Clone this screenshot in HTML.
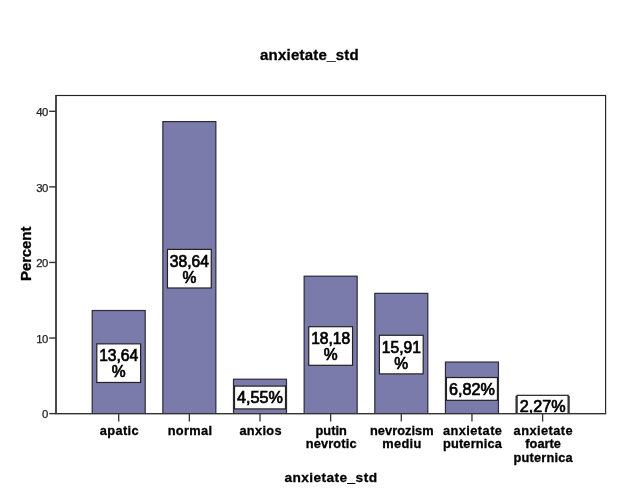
<!DOCTYPE html>
<html lang="ro"><head><meta charset="utf-8"><title>anxietate_std</title>
<style>html,body{margin:0;padding:0;background:#fff}svg{display:block}text{font-family:"Liberation Sans",Arial,Helvetica,sans-serif}.b{font-weight:bold;fill:#000;stroke:#000;stroke-width:.3px}.t{fill:#222;font-size:11.3px;letter-spacing:-.5px;stroke:#222;stroke-width:.25px}.v{fill:#000;font-size:16.2px;stroke:#000;stroke-width:.7px}.v2{font-size:15.6px}</style></head><body>
<svg width="618" height="495" viewBox="0 0 618 495">
<rect width="618" height="495" fill="#fff"/>
<text class="b" x="309.3" y="59.7" font-size="15px" text-anchor="middle" textLength="98.6" lengthAdjust="spacing">anxietate_std</text>
<clipPath id="p"><rect x="56.0" y="95.5" width="549.6" height="318.1"/></clipPath>
<g clip-path="url(#p)">
<rect x="92.20" y="310.52" width="53" height="103.08" fill="#7a7aab" stroke="#2b2b3a" stroke-width="1.2"/>
<rect x="162.85" y="121.58" width="53" height="292.02" fill="#7a7aab" stroke="#2b2b3a" stroke-width="1.2"/>
<rect x="233.50" y="379.21" width="53" height="34.39" fill="#7a7aab" stroke="#2b2b3a" stroke-width="1.2"/>
<rect x="304.15" y="276.20" width="53" height="137.40" fill="#7a7aab" stroke="#2b2b3a" stroke-width="1.2"/>
<rect x="374.80" y="293.36" width="53" height="120.24" fill="#7a7aab" stroke="#2b2b3a" stroke-width="1.2"/>
<rect x="445.45" y="362.06" width="53" height="51.54" fill="#7a7aab" stroke="#2b2b3a" stroke-width="1.2"/>
<rect x="516.10" y="396.44" width="53" height="17.16" fill="#7a7aab" stroke="#2b2b3a" stroke-width="1.2"/>
<rect x="96.80" y="343.86" width="43.8" height="38.6" fill="#fff" stroke="#222" stroke-width="1.2"/>
<text class="v v2" x="118.70" y="361.46" text-anchor="middle">13,64</text>
<text class="v v2" x="118.70" y="377.26" text-anchor="middle">%</text>
<rect x="167.45" y="249.39" width="43.8" height="38.6" fill="#fff" stroke="#222" stroke-width="1.2"/>
<text class="v v2" x="189.35" y="266.99" text-anchor="middle">38,64</text>
<text class="v v2" x="189.35" y="282.79" text-anchor="middle">%</text>
<rect x="234.50" y="386.11" width="51.0" height="22.8" fill="#fff" stroke="#222" stroke-width="1.2"/>
<text class="v" x="260.00" y="403.21" text-anchor="middle">4,55%</text>
<rect x="308.75" y="326.70" width="43.8" height="38.6" fill="#fff" stroke="#222" stroke-width="1.2"/>
<text class="v v2" x="330.65" y="344.30" text-anchor="middle">18,18</text>
<text class="v v2" x="330.65" y="360.10" text-anchor="middle">%</text>
<rect x="379.40" y="335.28" width="43.8" height="38.6" fill="#fff" stroke="#222" stroke-width="1.2"/>
<text class="v v2" x="401.30" y="352.88" text-anchor="middle">15,91</text>
<text class="v v2" x="401.30" y="368.68" text-anchor="middle">%</text>
<rect x="446.45" y="377.53" width="51.0" height="22.8" fill="#fff" stroke="#222" stroke-width="1.2"/>
<text class="v" x="471.95" y="394.63" text-anchor="middle">6,82%</text>
<rect x="517.10" y="395.32" width="51.0" height="22.8" fill="#fff" stroke="#222" stroke-width="1.2"/>
<text class="v" x="542.60" y="412.42" text-anchor="middle">2,27%</text>
</g>
<rect x="56.0" y="95.5" width="549.60" height="318.10" fill="none" stroke="#222" stroke-width="1.15"/>
<path d="M56.0 95.0V413.6H606.1" fill="none" stroke="#333" stroke-width="1.4"/>
<line x1="49.2" x2="56.0" y1="413.60" y2="413.60" stroke="#333" stroke-width="1.4"/>
<text class="t" x="47.9" y="418.30" text-anchor="end">0</text>
<line x1="49.2" x2="56.0" y1="338.03" y2="338.03" stroke="#333" stroke-width="1.4"/>
<text class="t" x="47.9" y="342.73" text-anchor="end">10</text>
<line x1="49.2" x2="56.0" y1="262.45" y2="262.45" stroke="#333" stroke-width="1.4"/>
<text class="t" x="47.9" y="267.15" text-anchor="end">20</text>
<line x1="49.2" x2="56.0" y1="186.88" y2="186.88" stroke="#333" stroke-width="1.4"/>
<text class="t" x="47.9" y="191.58" text-anchor="end">30</text>
<line x1="49.2" x2="56.0" y1="111.30" y2="111.30" stroke="#333" stroke-width="1.4"/>
<text class="t" x="47.9" y="116.00" text-anchor="end">40</text>
<text class="b" font-size="15px" text-anchor="middle" transform="translate(31 253.8) rotate(-90)" textLength="54.4" lengthAdjust="spacing">Percent</text>
<line x1="118.70" x2="118.70" y1="413.6" y2="421.6" stroke="#333" stroke-width="1.3"/>
<text class="b" font-size="12.8px" x="119.20" y="435.00" text-anchor="middle" textLength="38.7" lengthAdjust="spacing">apatic</text>
<line x1="189.35" x2="189.35" y1="413.6" y2="421.6" stroke="#333" stroke-width="1.3"/>
<text class="b" font-size="12.8px" x="189.85" y="435.00" text-anchor="middle" textLength="44.3" lengthAdjust="spacing">normal</text>
<line x1="260.00" x2="260.00" y1="413.6" y2="421.6" stroke="#333" stroke-width="1.3"/>
<text class="b" font-size="12.8px" x="260.50" y="435.00" text-anchor="middle" textLength="42.2" lengthAdjust="spacing">anxios</text>
<line x1="330.65" x2="330.65" y1="413.6" y2="421.6" stroke="#333" stroke-width="1.3"/>
<text class="b" font-size="12.8px" x="331.15" y="435.00" text-anchor="middle" textLength="31.4" lengthAdjust="spacing">putin</text>
<text class="b" font-size="12.8px" x="331.15" y="448.40" text-anchor="middle" textLength="51.0" lengthAdjust="spacing">nevrotic</text>
<line x1="401.30" x2="401.30" y1="413.6" y2="421.6" stroke="#333" stroke-width="1.3"/>
<text class="b" font-size="12.8px" x="401.80" y="435.00" text-anchor="middle" textLength="63.7" lengthAdjust="spacing">nevrozism</text>
<text class="b" font-size="12.8px" x="401.80" y="448.40" text-anchor="middle" textLength="38.9" lengthAdjust="spacing">mediu</text>
<line x1="471.95" x2="471.95" y1="413.6" y2="421.6" stroke="#333" stroke-width="1.3"/>
<text class="b" font-size="12.8px" x="472.45" y="435.00" text-anchor="middle" textLength="59.0" lengthAdjust="spacing">anxietate</text>
<text class="b" font-size="12.8px" x="472.45" y="448.40" text-anchor="middle" textLength="59.0" lengthAdjust="spacing">puternica</text>
<line x1="542.60" x2="542.60" y1="413.6" y2="421.6" stroke="#333" stroke-width="1.3"/>
<text class="b" font-size="12.8px" x="543.10" y="435.00" text-anchor="middle" textLength="59.0" lengthAdjust="spacing">anxietate</text>
<text class="b" font-size="12.8px" x="543.10" y="448.40" text-anchor="middle" textLength="35.5" lengthAdjust="spacing">foarte</text>
<text class="b" font-size="12.8px" x="543.10" y="461.80" text-anchor="middle" textLength="59.0" lengthAdjust="spacing">puternica</text>
<text class="b" x="330.7" y="481.6" font-size="13.7px" text-anchor="middle" textLength="92.6" lengthAdjust="spacing">anxietate_std</text>
</svg></body></html>
